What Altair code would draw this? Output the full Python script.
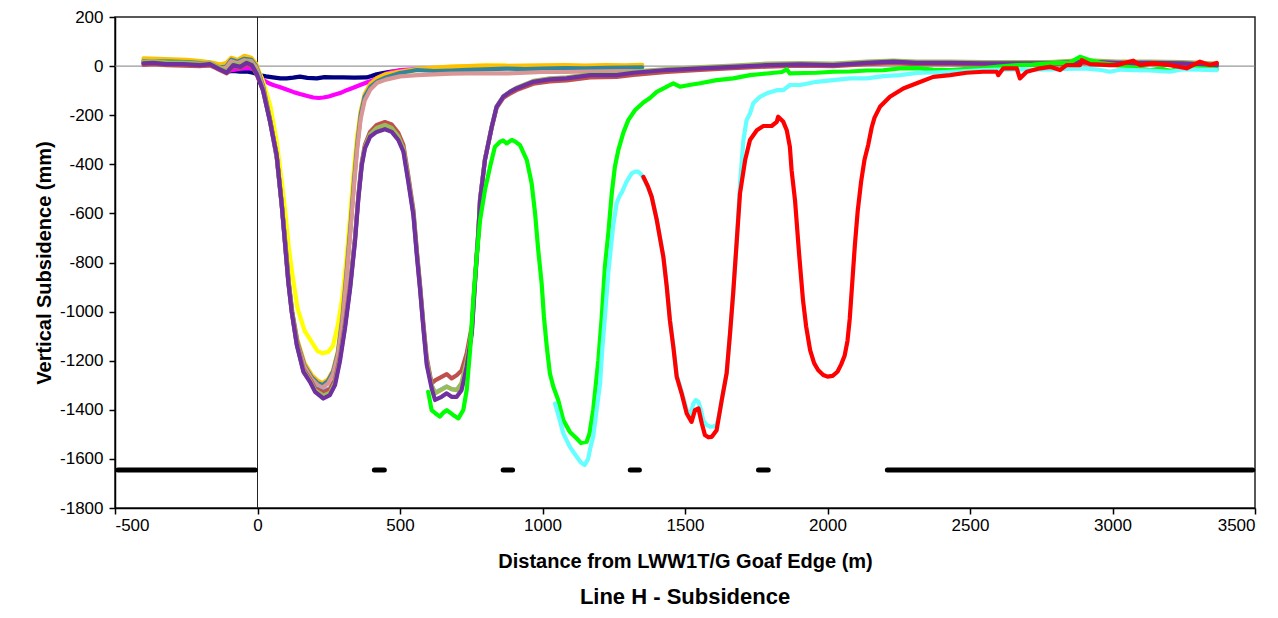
import altair as alt
import pandas as pd

# ---------------- data ----------------
# Group A: single-trough surveys share one x grid (m)
GA_X = [-400, -350, -300, -250, -200, -160, -130, -110, -92, -70, -46, -22, -5,
        5, 20, 45, 68, 86, 98, 110, 122, 140, 165,
        190, 210, 228, 248, 265, 282, 298, 312, 326, 338,
        350, 362, 376, 396, 420, 450, 500, 560, 620, 680,
        740, 800, 870, 940, 1000, 1080, 1150, 1220, 1290, 1350]

YELLOW_Y = [28, 27, 25, 23, 19, 12, 5, 10, 32, 24, 40, 33, 10,
            -20, -64, -162, -312, -480, -600, -740, -845, -985, -1078,
            -1123, -1160, -1170, -1164, -1139, -1055, -940, -785, -595, -420,
            -280, -190, -125, -80, -60, -45, -30, -16, -8, -3,
            0, 3, 3]

GOLD_Y = [32, 30, 28, 25, 20, 14, 6, 12, 34, 25, 42, 34, 8,
          -25, -80, -220, -370, -570, -720, -880, -1000, -1115, -1210,
          -1258, -1280, -1292, -1275, -1240, -1160, -1010, -830, -640, -460,
          -300, -185, -115, -72, -48, -33, -22, -12, -6, -2,
          0, 2, 1, 2, 3, 4, 2, 4, 3, 5]

TEAL_Y = [20, 19, 18, 16, 12, 4, -6, -2, 26, 18, 30, 26, 0,
          -30, -85, -225, -375, -575, -725, -885, -1005, -1125, -1220,
          -1268, -1290, -1300, -1282, -1245, -1170, -1030, -850, -660, -480,
          -320, -200, -125, -85, -62, -46, -28, -16, -20, -18,
          -15, -13, -10, -12, -10, -8, -9, -7, -6, -5]

PINK_Y = [14, 13, 12, 10, 6, 0, -10, -6, 20, 12, 24, 20, -4,
          -35, -90, -230, -380, -580, -730, -890, -1010, -1130, -1225,
          -1275, -1298, -1310, -1292, -1255, -1180, -1045, -865, -675, -495,
          -335, -215, -140, -95, -68, -55, -42, -37, -34, -31,
          -30, -30, -30, -27, -24, -24, -22, -21, -20, -20]

# Group B: two-trough surveys share one x grid (m)
GB_X = [-400, -366, -319, -260, -202, -167, -132, -108, -85, -61, -38, -20, -3,
        19, 44, 67, 85, 96, 108, 120, 138, 161, 184,
        202, 231, 254, 272, 289, 307, 325, 342, 354, 366,
        377, 395, 418, 447, 471, 494, 512, 529, 547, 559,
        570, 582, 594, 611, 623, 646, 664, 681, 699, 716,
        734, 752, 763, 775, 781, 798, 822, 839, 862, 886,
        909, 968, 1026, 1085, 1167, 1260, 1319, 1436, 1553, 1669,
        1787, 1904, 2020, 2137, 2231, 2313, 2430, 2546, 2664, 2781,
        2897, 3015, 3132, 3247, 3366]

SKY_Y = [14, 16, 11, 10, 6, 10, -10, -24, 6, 0, 16, 6, -28,
         -97, -226, -362, -565, -715, -878, -1000, -1135, -1240, -1278,
         -1308, -1322, -1312, -1280, -1190, -1056, -896, -708, -532, -398,
         -330, -282, -262, -250, -262, -296, -344, -466, -602, -766,
         -900, -1062, -1210, -1300, -1330, -1316, -1305, -1316, -1318, -1295,
         -1210, -1080, -880, -678, -544, -382, -246, -165, -124, -104,
         -90, -62, -52, -48, -36, -36, -26, -15, -8, -2,
         5, 8, 5, 14, 18, 14, 14, 12, 12, 12,
         18, 14, 14, 12, 5]

BROWN_Y = [5, 8, 4, 2, 0, 4, -16, -30, 0, -6, 8, 0, -34,
           -95, -222, -358, -560, -710, -872, -994, -1128, -1234, -1274,
           -1312, -1328, -1316, -1278, -1185, -1050, -890, -700, -525, -390,
           -320, -268, -240, -228, -238, -272, -322, -445, -585, -750,
           -885, -1048, -1190, -1293, -1280, -1266, -1255, -1272, -1259, -1240,
           -1170, -1060, -870, -670, -540, -380, -250, -170, -130, -112,
           -98, -72, -62, -58, -46, -44, -36, -24, -16, -8,
           -2, 2, 0, 8, 12, 8, 8, 6, 6, 6,
           12, 8, 8, 6, 0]

OLIVE_Y = [18, 20, 15, 14, 10, 14, -6, -20, 10, 4, 20, 10, -22,
           -96, -225, -360, -563, -713, -876, -998, -1133, -1240, -1280,
           -1320, -1342, -1330, -1290, -1195, -1060, -898, -708, -532, -396,
           -328, -278, -252, -240, -252, -286, -336, -458, -596, -760,
           -895, -1058, -1205, -1300, -1333, -1318, -1306, -1316, -1320, -1290,
           -1200, -1075, -878, -676, -542, -380, -245, -165, -125, -104,
           -88, -60, -50, -46, -32, -32, -22, -12, -4, 2,
           10, 12, 10, 18, 22, 18, 18, 16, 16, 16,
           24, 18, 18, 16, 10]

PURPLE_Y = [11, 13, 8, 8, 4, 8, -13, -27, 4, -3, 13, 4, -30,
            -98, -227, -363, -566, -716, -879, -1001, -1137, -1245, -1286,
            -1327, -1354, -1340, -1299, -1204, -1068, -906, -716, -539, -403,
            -335, -288, -268, -257, -268, -301, -349, -471, -607, -770,
            -905, -1068, -1218, -1313, -1360, -1347, -1333, -1347, -1347, -1320,
            -1225, -1089, -885, -681, -546, -383, -247, -166, -125, -105,
            -91, -64, -54, -50, -37, -37, -27, -16, -9, -3,
            4, 7, 4, 13, 18, 13, 13, 11, 11, 11,
            18, 13, 13, 11, 4]

NAVY = [(-400, 14), (-360, 12), (-320, 10), (-280, 8), (-240, 6), (-200, 4), (-160, 2),
        (-130, -12), (-108, -23), (-85, -20), (-61, -23), (-38, -22), (-16, -27), (9, -37),
        (30, -42), (54, -46), (80, -50), (102, -50), (125, -47), (149, -43), (175, -48),
        (208, -50), (235, -45), (266, -46), (300, -46), (340, -47), (383, -46), (400, -40),
        (418, -33), (440, -28), (465, -23), (500, -19)]

MAGENTA = [(-400, 18), (-350, 16), (-300, 14), (-250, 12), (-200, 10), (-160, 6), (-130, -10),
           (-105, -20), (-80, -15), (-55, -10), (-30, -8), (-10, -12), (3, -23), (20, -57),
           (40, -70), (55, -77), (80, -86), (102, -95), (125, -105), (149, -114), (175, -122),
           (196, -128), (215, -130), (231, -128), (250, -124), (266, -118), (290, -110),
           (313, -98), (336, -88), (360, -77), (383, -67), (406, -57), (430, -42), (453, -30),
           (476, -22), (500, -16), (560, -12), (620, -10), (700, -9), (780, -8), (875, -8)]

GREEN = [(599, -1327), (611, -1401), (625, -1415), (640, -1428), (652, -1412), (664, -1401),
         (685, -1420), (705, -1435), (722, -1401), (734, -1320), (746, -1157), (757, -953),
         (769, -777), (781, -627), (798, -505), (816, -410), (833, -329), (851, -308),
         (862, -303), (874, -315), (892, -301), (905, -308), (921, -322), (945, -383),
         (962, -478), (974, -600), (985, -749), (997, -885), (1005, -1021), (1015, -1143),
         (1026, -1252), (1038, -1306), (1055, -1360), (1073, -1442), (1096, -1490),
         (1120, -1517), (1135, -1535), (1155, -1530), (1165, -1496), (1178, -1400),
         (1196, -1198), (1208, -1021), (1219, -817), (1231, -681), (1243, -519),
         (1254, -410), (1266, -342), (1284, -270), (1301, -220), (1325, -179), (1354, -148),
         (1377, -130), (1401, -105), (1430, -88), (1447, -77), (1459, -70), (1482, -84),
         (1520, -76), (1553, -70), (1611, -57), (1669, -50), (1728, -37), (1787, -30),
         (1840, -24), (1857, -13), (1868, -30), (1920, -28), (1962, -27), (2020, -23),
         (2079, -22), (2137, -18), (2195, -17), (2254, -9), (2313, -8), (2370, -14),
         (2430, -16), (2490, -11), (2546, -9), (2600, -2), (2664, 4), (2720, 6), (2781, 11),
         (2850, 14), (2886, 38), (2921, 24), (2960, 12), (3015, 4), (3070, -6), (3132, -16),
         (3170, -10), (3202, -19), (3247, -9), (3300, -8), (3366, -13)]

CYAN = [(1044, -1374), (1060, -1440), (1073, -1496), (1096, -1551), (1120, -1591),
        (1135, -1615), (1148, -1625), (1160, -1600), (1167, -1560), (1178, -1510),
        (1190, -1400), (1202, -1292), (1210, -1150), (1219, -1021), (1231, -840),
        (1240, -740), (1248, -650), (1260, -559), (1270, -530), (1278, -515), (1295, -471),
        (1313, -437), (1325, -430), (1336, -430), (1348, -444), (1360, -470), (1383, -530),
        (1401, -625), (1424, -775), (1436, -897), (1447, -1030), (1459, -1138),
        (1471, -1260), (1488, -1325), (1506, -1400), (1520, -1420), (1529, -1375),
        (1538, -1360), (1547, -1367), (1556, -1400), (1564, -1442), (1576, -1462),
        (1588, -1469), (1600, -1468), (1611, -1462), (1620, -1420), (1629, -1360),
        (1646, -1252), (1658, -1089), (1669, -926), (1681, -722), (1693, -480),
        (1705, -301), (1716, -220), (1728, -193), (1740, -150), (1763, -125), (1787, -111),
        (1822, -98), (1845, -98), (1868, -77), (1904, -77), (1962, -64), (2020, -57),
        (2079, -50), (2137, -50), (2196, -41), (2254, -37), (2313, -28), (2370, -26),
        (2430, -23), (2490, -20), (2547, -16), (2600, -14), (2664, -13), (2720, -14),
        (2781, -13), (2840, -11), (2898, -9), (2950, -14), (2991, -23), (3030, -14),
        (3073, -16), (3130, -18), (3202, -23), (3247, -13), (3300, -14), (3366, -16)]

RED = [(1354, -451), (1370, -490), (1383, -532), (1401, -627), (1424, -777), (1436, -899),
       (1447, -1035), (1459, -1143), (1471, -1266), (1488, -1333), (1506, -1415),
       (1523, -1449), (1535, -1401), (1547, -1394), (1559, -1456), (1570, -1503),
       (1582, -1512), (1594, -1510), (1611, -1483), (1629, -1360), (1646, -1252),
       (1658, -1089), (1669, -926), (1681, -722), (1693, -519), (1711, -383), (1728, -301),
       (1752, -261), (1775, -244), (1804, -244), (1822, -227), (1827, -206), (1845, -227),
       (1857, -261), (1868, -329), (1874, -424), (1886, -546), (1900, -760), (1914, -953),
       (1925, -1060), (1939, -1157), (1953, -1210), (1967, -1238), (1985, -1258),
       (2000, -1265), (2018, -1262), (2035, -1245), (2048, -1215), (2060, -1180),
       (2070, -1120), (2078, -1030), (2087, -880), (2096, -730), (2106, -590),
       (2118, -470), (2130, -380), (2143, -320), (2155, -250), (2165, -210),
       (2184, -166), (2219, -125), (2266, -91), (2313, -70),
       (2371, -44), (2430, -37), (2488, -27), (2547, -23), (2594, -23), (2599, -37),
       (2617, -9), (2664, -9), (2675, -50), (2699, -23), (2746, -9), (2781, -3), (2816, -16),
       (2839, 4), (2886, 4), (2892, 24), (2921, 8), (2991, 4), (3015, 4), (3073, 22),
       (3096, 4), (3143, 11), (3202, 4), (3260, -9), (3307, 18), (3342, 4), (3366, 13)]

# Pillar (chain) positions along the line, drawn at the base of the chart
PILLAR_START = [-490, 410, 862, 1308, 1758, 2210]
PILLAR_END = [-8, 445, 895, 1340, 1792, 3492]
PILLAR_LEVEL = -1645

X_TICKS = [-500, 0, 500, 1000, 1500, 2000, 2500, 3000, 3500]
Y_TICKS = [200, 0, -200, -400, -600, -800, -1000, -1200, -1400, -1600, -1800]

# ---------------- chart ----------------
FONT = "Liberation Sans"

x_enc = alt.X("x:Q",
              scale=alt.Scale(domain=[-500, 3500], nice=False, zero=False),
              axis=alt.Axis(values=X_TICKS, title="Distance from LWW1T/G Goaf Edge (m)",
                            labelExpr="'' + datum.value", labelPadding=3,
                            titlePadding=18, grid=False))
y_enc = alt.Y("y:Q",
              scale=alt.Scale(domain=[-1800, 200], nice=False, zero=False),
              axis=alt.Axis(values=Y_TICKS, title="Vertical Subsidence (mm)",
                            labelExpr="'' + datum.value", labelPadding=6,
                            titlePadding=5, grid=False))


def pairs(points):
    return pd.DataFrame({"x": [p[0] for p in points], "y": [p[1] for p in points]})


def grid(xs, ys):
    n = len(ys)
    return pd.DataFrame({"x": xs[:n], "y": ys})


series = [
    ("#000080", pairs(NAVY)),
    ("#FF00FF", pairs(MAGENTA)),
    ("#FFFF00", grid(GA_X, YELLOW_Y)),
    ("#FFC000", grid(GA_X, GOLD_Y)),
    ("#31859C", grid(GA_X, TEAL_Y)),
    ("#D99694", grid(GA_X, PINK_Y)),
    ("#8DB4E2", grid(GB_X, SKY_Y)),
    ("#C0504D", grid(GB_X, BROWN_Y)),
    ("#9BBB59", grid(GB_X, OLIVE_Y)),
    ("#7030A0", grid(GB_X, PURPLE_Y)),
    ("#00FF00", pairs(GREEN)),
    ("#66FFFF", pairs(CYAN)),
    ("#FF0000", pairs(RED)),
]

layers = []
layers.append(alt.Chart(pd.DataFrame({"y": [0]})).mark_rule(color="#7f7f7f", strokeWidth=1).encode(y=y_enc))
layers.append(alt.Chart(pd.DataFrame({"x": [0]})).mark_rule(color="#222222", strokeWidth=1).encode(x=x_enc))

for color, df in series:
    layers.append(
        alt.Chart(df).mark_line(color=color, strokeWidth=4.2, strokeJoin="round",
                                strokeCap="round", clip=True)
        .encode(x=x_enc, y=y_enc)
    )

pillars = pd.DataFrame({"x": PILLAR_START, "x2": PILLAR_END,
                        "y": [PILLAR_LEVEL] * len(PILLAR_START)})
layers.append(
    alt.Chart(pillars).mark_rule(color="black", strokeWidth=5, strokeCap="round")
    .encode(x=x_enc, x2="x2:Q", y=y_enc)
)

chart = (
    alt.layer(*layers)
    .properties(
        width=1140, height=491,
        autosize=alt.AutoSizeParams(type="none"),
        padding={"left": 107, "top": 9, "right": 15, "bottom": 108},
        title=alt.TitleParams("Line H - Subsidence", orient="bottom", anchor="middle",
                              font=FONT, fontSize=22, fontWeight="bold", color="black",
                              offset=16),
    )
    .configure_axis(labelFont=FONT, labelFontSize=17, labelColor="black",
                    titleFont=FONT, titleFontSize=20, titleFontWeight="bold",
                    titleColor="black", domainColor="black", domainWidth=1.5,
                    tickColor="black", tickWidth=1.5, tickSize=6)
    .configure_view(stroke="#222222", strokeWidth=1.5)
)

chart.save("out.html", embed_options={"renderer": "svg", "actions": False})
